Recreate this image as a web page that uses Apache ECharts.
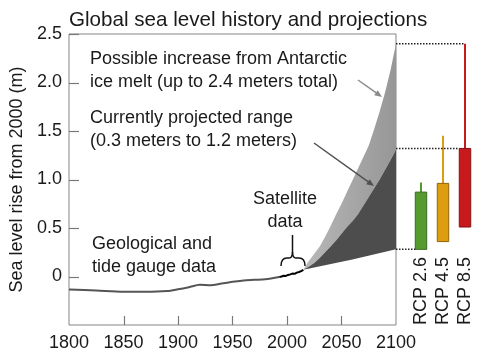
<!DOCTYPE html>
<html><head><meta charset="utf-8">
<script src="https://cdn.jsdelivr.net/npm/echarts@6/dist/echarts.min.js"></script>
<style>html,body{margin:0;padding:0;background:#fff}#c{width:480px;height:360px}</style>
</head><body><div id="c"></div>
<script>
// ---- data ----
const histYears = [1800,1825,1850,1870,1890,1900,1910,1920,1930,1940,1950,1960,1970,1980,1993];
const histLevel = [-0.134,-0.145,-0.157,-0.157,-0.150,-0.132,-0.110,-0.085,-0.090,-0.072,-0.055,-0.040,-0.034,-0.028,-0.005];
const satYears = [1993,1995,1997,1999,2001,2003,2005,2007,2009,2011,2013,2015];
const satLevel = [-0.005,0.000,0.008,0.006,0.016,0.022,0.030,0.028,0.040,0.046,0.055,0.068];
const lowYears = [2015,2060,2100];
const projLow  = [0.07,0.175,0.28];
const projYears = [2015,2020,2025,2030,2035,2040,2045,2050,2055,2060,2065,2070,2075,2080,2085,2090,2095,2100];
const projHigh  = [0.07,0.10,0.14,0.19,0.25,0.31,0.37,0.44,0.51,0.57,0.64,0.73,0.82,0.91,1.00,1.10,1.20,1.31];
const antarcticHigh = [0.07,0.16,0.235,0.31,0.41,0.52,0.64,0.75,0.87,0.99,1.11,1.23,1.35,1.52,1.70,1.90,2.13,2.40];
const rcpNames = ['RCP 2.6','RCP 4.5','RCP 8.5'];
const rcpLow  = [0.28,0.36,0.51];
const rcpHigh = [0.87,0.96,1.32];
const rcpMax  = [0.97,1.45,2.40];
const xTicks = [1850,1900,1950,2000,2050];
const yTicks = [0,0.5,1,1.5,2,2.5];

// ---- styles ----
const FONT = '"Liberation Sans", Arial, sans-serif';
const TXT = '#1a1a1a';
const AX = '#858585';
const rcpFill = ['#559a2e','#de9c0f','#c8191d'];
const rcpEdge = ['#3b6a20','#8f640a','#861114'];

const chart = echarts.init(document.getElementById('c'), null, {renderer:'canvas'});
const pair = (xs, ys) => xs.map((x,i)=>[x, ys[i]]);

// polygon of a band between two boundaries, drawn via the axes
function bandSeries(name, upX, upper, loX, lower, fill){
  return {type:'custom', name, xAxisIndex:0, yAxisIndex:0, z:2,
    data:[[0]],
    renderItem:function(params, api){
      const pts = [];
      upX.forEach((y,i)=>pts.push(api.coord([y, upper[i]])));
      for(let i=loX.length-1;i>=0;i--) pts.push(api.coord([loX[i], lower[i]]));
      return {type:'polygon', shape:{points:pts, smooth:0}, style:{fill:fill, lineWidth:0}};
    }};
}
const lightFill = new echarts.graphic.LinearGradient(0,0,1,0,[{offset:0,color:'#b8b8b8'},{offset:1,color:'#979797'}]);
const tickStyle = {stroke:'#7a7a7a', lineWidth:1.2};

const option = {
  animation:false,
  backgroundColor:'#fff',
  textStyle:{fontFamily:FONT},
  title:{text:'Global sea level history and projections', left:64, top:5,
    textStyle:{fontSize:20.6, fontWeight:'normal', color:TXT, fontFamily:FONT}},
  grid:[
    {left:69, right:84, top:34, bottom:35, show:true, borderColor:AX, borderWidth:1, backgroundColor:'rgba(0,0,0,0)'},
    {left:410, right:4, top:34, bottom:35, show:false}
  ],
  xAxis:[
    {type:'value', gridIndex:0, min:1800, max:2100, interval:50, position:'bottom',
     axisLine:{show:false, onZero:false}, splitLine:{show:false}, axisTick:{show:false},
     axisLabel:{fontSize:18, color:TXT, margin:9, fontFamily:FONT, formatter:v=>String(v)}},
    {type:'category', gridIndex:1, data:rcpNames, show:false}
  ],
  yAxis:[
    {type:'value', gridIndex:0, min:-0.5, max:2.5, interval:0.5, position:'left',
     name:'Sea level rise from 2000 (m)', nameLocation:'middle', nameGap:38, nameRotate:90,
     nameTextStyle:{fontSize:18, color:TXT, fontFamily:FONT},
     axisLine:{show:false, onZero:false}, splitLine:{show:false}, axisTick:{show:false},
     axisLabel:{fontSize:18, color:TXT, margin:7, fontFamily:FONT,
       formatter:v => yTicks.indexOf(v) < 0 ? '' : (v===0 ? '0' : v.toFixed(1))}},
    {type:'value', gridIndex:1, min:-0.5, max:2.5, show:false}
  ],
  series:[
    bandSeries('antarctic', projYears, antarcticHigh, projYears, projHigh, lightFill),
    bandSeries('projected', projYears, projHigh, lowYears, projLow, '#4d4d4d'),
    {type:'line', name:'history', symbol:'none', smooth:0.3,
     data:pair(histYears, histLevel), lineStyle:{color:'#555', width:2}, z:3},
    {type:'line', name:'satellite', symbol:'none',
     data:pair(satYears, satLevel), lineStyle:{color:'#000', width:2}, z:4},
    {type:'custom', name:'xticks', xAxisIndex:0, yAxisIndex:0, z:8, silent:true,
     data: xTicks.map(t=>[t]),
     renderItem:function(params, api){
       const p = api.coord([api.value(0), -0.5]);
       const x = Math.round(p[0])+0.5;
       return {type:'line', shape:{x1:x, y1:p[1], x2:x, y2:p[1]-9}, style:tickStyle};
     }},
    {type:'custom', name:'yticks', xAxisIndex:0, yAxisIndex:0, z:8, silent:true,
     data: yTicks.map(t=>[1800, t]),
     encode:{x:0, y:1},
     renderItem:function(params, api){
       const p = api.coord([1800, api.value(1)]);
       const y = Math.round(p[1])+0.5;
       return {type:'line', shape:{x1:p[0], y1:y, x2:p[0]+10, y2:y}, style:tickStyle};
     }},
    {type:'custom', name:'rcp', xAxisIndex:1, yAxisIndex:1,
     data: rcpNames.map((n,i)=>[i, rcpLow[i], rcpHigh[i], rcpMax[i]]),
     renderItem:function(params, api){
       const i = api.value(0);
       const lo = api.coord([i, api.value(1)]);
       const hi = api.coord([i, api.value(2)]);
       const top = api.coord([i, api.value(3)]);
       const base = api.coord([i, -0.5]);
       const w = api.size([1,0])[0]*0.52;
       return {type:'group', children:[
         {type:'line', shape:{x1:hi[0], y1:top[1], x2:hi[0], y2:hi[1]}, style:{stroke:rcpFill[i], lineWidth:2}},
         {type:'rect', shape:{x:hi[0]-w/2, y:hi[1], width:w, height:lo[1]-hi[1]},
          style:{fill:rcpFill[i], stroke:rcpEdge[i], lineWidth:1}},
         {type:'text', x:base[0], y:base[1], rotation:Math.PI/2,
          style:{text:rcpNames[i], font:'18px ' + FONT, fill:TXT, align:'left', verticalAlign:'middle',
                 textAlign:'left', textVerticalAlign:'middle'}}
       ]};
     }, z:5}
  ]
};
chart.setOption(option);

// ---- annotations, anchored via the axes ----
const p0 = v => chart.convertToPixel({gridIndex:0}, v);
const p1 = v => chart.convertToPixel({gridIndex:1}, v);
const boxHalf = (p1([1,0])[0]-p1([0,0])[0])*0.26;
const xEnd = p0([2100,0])[0];
function dotted(y, x2){ return {type:'line', shape:{x1:xEnd, y1:y, x2:x2, y2:y}, style:{stroke:'#222', lineWidth:1.5, lineDash:[1.5,1.5]}, z:10}; }
function arrow(x1,y1,x2,y2,color){
  const a = Math.atan2(y2-y1, x2-x1), L=8, s=0.4;
  return [
    {type:'line', shape:{x1,y1,x2:x2-Math.cos(a)*4,y2:y2-Math.sin(a)*4}, style:{stroke:color, lineWidth:1.5}, z:10},
    {type:'polygon', shape:{points:[[x2,y2],[x2-L*Math.cos(a-s),y2-L*Math.sin(a-s)],[x2-L*Math.cos(a+s),y2-L*Math.sin(a+s)]]}, style:{fill:color}, z:10}
  ];
}
function txt(x,y,t,align){ return {type:'text', x, y, z:10, style:{text:t, font:'18px ' + FONT, fill:TXT, lineHeight:23.5,
  align:align||'left', textAlign:align||'left', verticalAlign:'top', textVerticalAlign:'top'}}; }
const bs = {stroke:'#111', lineWidth:1.5, fill:null};
function quad(x1,y1,cx,cy,x2,y2){ return {type:'bezierCurve', z:10, shape:{x1,y1,x2,y2,cpx1:cx,cpy1:cy}, style:bs}; }
function seg(x1,y1,x2,y2){ return {type:'line', z:10, shape:{x1,y1,x2,y2}, style:bs}; }

const gfx = [
  dotted(p0([2100, rcpMax[2]])[1], p1([2, rcpMax[2]])[0]),
  dotted(p0([2100, rcpHigh[2]])[1], p1([2, rcpHigh[2]])[0]-boxHalf),
  dotted(p0([2100, rcpLow[0]])[1], p1([0, rcpLow[0]])[0]-boxHalf),
  ...arrow(358,80,382,97,'#8a8a8a'),
  ...arrow(314,143,374,186,'#505050'),
  quad(281,266, 281,258, 287,258), seg(287,258,289,258), quad(289,258, 292.5,258, 292.5,252),
  seg(292.5,252,292.5,235),
  quad(292.5,252, 292.5,258, 296,258), seg(296,258,299,258), quad(299,258, 305,258, 305,266),
  txt(90, 47, 'Possible increase from Antarctic\nice melt (up to 2.4 meters total)'),
  txt(90, 106, 'Currently projected range\n(0.3 meters to 1.2 meters)'),
  txt(92, 232, 'Geological and\ntide gauge data'),
  txt(285, 187, 'Satellite\ndata', 'center')
];
chart.setOption({graphic:gfx});
</script>
</body></html>
